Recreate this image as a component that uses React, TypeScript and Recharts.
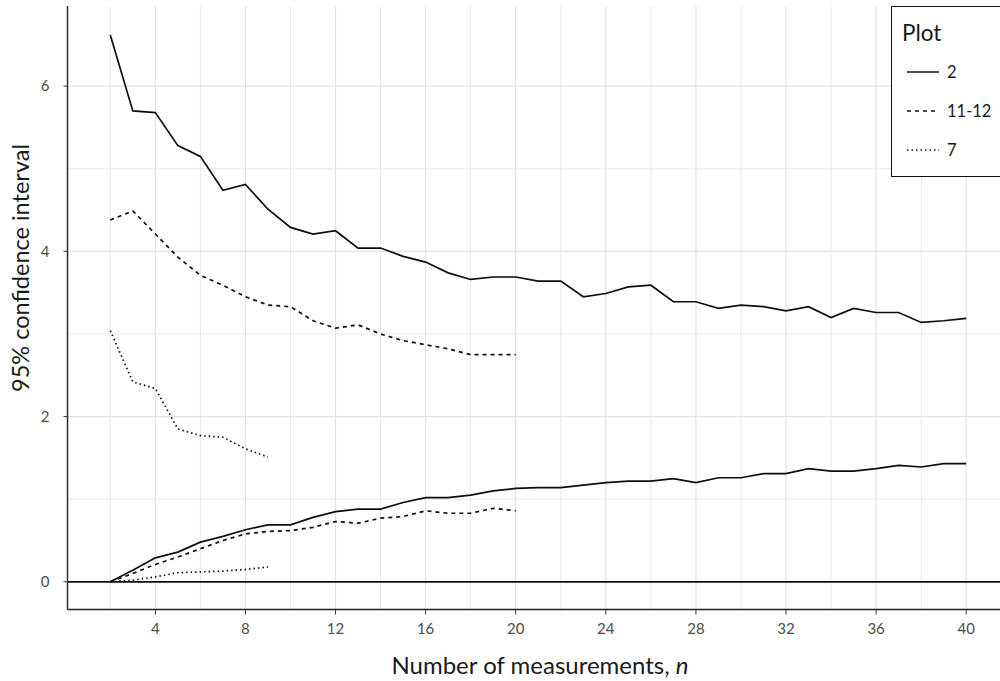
// Confidence interval width vs number of measurements
// Three plots, upper and lower bounds drawn with solid / dashed / dotted lines

import React from "react";
import { LineChart, Line, XAxis, YAxis, ReferenceLine } from "recharts";

// n = 2 .. 40
const nValues = [2, 3, 4, 5, 6, 7, 8, 9, 10, 11, 12, 13, 14, 15, 16, 17, 18, 19, 20, 21, 22, 23, 24, 25, 26, 27, 28, 29, 30, 31, 32, 33, 34, 35, 36, 37, 38, 39, 40];

// Plot 2 (solid)
const upper2 = [6.62, 5.70, 5.68, 5.28, 5.15, 4.74, 4.81, 4.51, 4.29, 4.21, 4.25, 4.04, 4.04, 3.94, 3.87, 3.74, 3.66, 3.69, 3.69, 3.64, 3.64, 3.45, 3.49, 3.57, 3.59, 3.39, 3.39, 3.31, 3.35, 3.33, 3.28, 3.33, 3.20, 3.31, 3.26, 3.26, 3.14, 3.16, 3.19];
const lower2 = [0, 0.14, 0.29, 0.36, 0.48, 0.55, 0.63, 0.69, 0.69, 0.78, 0.85, 0.88, 0.88, 0.96, 1.02, 1.02, 1.05, 1.10, 1.13, 1.14, 1.14, 1.17, 1.20, 1.22, 1.22, 1.25, 1.20, 1.26, 1.26, 1.31, 1.31, 1.37, 1.34, 1.34, 1.37, 1.41, 1.39, 1.43, 1.43];

// Plot 11-12 (dashed), n = 2 .. 20
const upper1112 = [4.38, 4.49, 4.21, 3.93, 3.71, 3.59, 3.45, 3.35, 3.33, 3.16, 3.07, 3.11, 3.00, 2.92, 2.87, 2.82, 2.75, 2.75, 2.75];
const lower1112 = [0, 0.10, 0.21, 0.30, 0.40, 0.50, 0.58, 0.61, 0.62, 0.66, 0.73, 0.71, 0.77, 0.79, 0.86, 0.83, 0.83, 0.89, 0.86];

// Plot 7 (dotted), n = 2 .. 9
const upper7 = [3.04, 2.42, 2.34, 1.85, 1.77, 1.75, 1.61, 1.51];
const lower7 = [0, 0.02, 0.06, 0.11, 0.12, 0.13, 0.15, 0.18];

const xTicks = [4, 8, 12, 16, 20, 24, 28, 32, 36, 40];
const yTicks = [0, 2, 4, 6];
const xGrid = [2, 4, 6, 8, 10, 12, 14, 16, 18, 20, 22, 24, 26, 28, 30, 32, 34, 36, 38, 40];
const yGrid = [0, 1, 2, 3, 4, 5, 6];

const legendItems = [
  { label: "2", dash: undefined },
  { label: "11-12", dash: "4 4" },
  { label: "7", dash: "1.5 3" },
];

const data = nValues.map((n, i) => ({
  n,
  upper2: upper2[i],
  lower2: lower2[i],
  upper1112: upper1112[i],
  lower1112: lower1112[i],
  upper7: upper7[i],
  lower7: lower7[i],
}));

const FONT = "Lato, 'Open Sans', sans-serif";
const X_DOMAIN: [number, number] = [0.1, 41.9];
const Y_DOMAIN: [number, number] = [-0.335, 6.97];

export default function App() {
  const lineProps = {
    type: "linear" as const,
    stroke: "#0d0d0d",
    strokeWidth: 1.7,
    dot: false,
    activeDot: false,
    isAnimationActive: false,
  };

  return (
    <div style={{ position: "absolute", left: 0, top: 0, width: 1000, height: 681, overflow: "hidden", background: "#fff", fontFamily: FONT }}>
      <LineChart width={1020} height={681} data={data} margin={{ top: 6, right: 11, bottom: 0, left: 0 }}>
        {xGrid.map(v => (
          <ReferenceLine key={"gx" + v} x={v} stroke="#e3e3e3" strokeWidth={v % 4 === 0 ? 1.2 : 0.8} />
        ))}
        {yGrid.map(v => (
          <ReferenceLine key={"gy" + v} y={v} stroke="#e3e3e3" strokeWidth={v % 2 === 0 ? 1.2 : 0.8} />
        ))}
        <XAxis
          dataKey="n"
          type="number"
          domain={X_DOMAIN}
          ticks={xTicks}
          height={71.5}
          axisLine={{ stroke: "#222", strokeWidth: 1.4 }}
          tickLine={{ stroke: "#333" }}
          tickSize={5}
          tickMargin={9}
          tick={{ fill: "#4d4d4d", fontSize: 15, fontFamily: FONT }}
          allowDataOverflow
        />
        <XAxis
          xAxisId="top"
          orientation="top"
          type="number"
          domain={X_DOMAIN}
          height={0}
          tick={false}
          tickLine={false}
          axisLine={{ stroke: "#222", strokeWidth: 1.4 }}
        />
        <YAxis
          type="number"
          domain={Y_DOMAIN}
          ticks={yTicks}
          width={67.5}
          axisLine={{ stroke: "#222", strokeWidth: 1.4 }}
          tickLine={{ stroke: "#333" }}
          tickSize={4}
          tickMargin={14}
          tick={{ fill: "#4d4d4d", fontSize: 15, fontFamily: FONT }}
          allowDataOverflow
        />
        <ReferenceLine y={0} stroke="#111" strokeWidth={1.7} />
        <Line {...lineProps} dataKey="upper2" name="2" />
        <Line {...lineProps} dataKey="lower2" name="2" legendType="none" />
        <Line {...lineProps} dataKey="upper1112" name="11-12" strokeDasharray="4 4" />
        <Line {...lineProps} dataKey="lower1112" name="11-12" strokeDasharray="4 4" legendType="none" />
        <Line {...lineProps} dataKey="upper7" name="7" strokeDasharray="1.5 3" />
        <Line {...lineProps} dataKey="lower7" name="7" strokeDasharray="1.5 3" legendType="none" />
      </LineChart>

      {/* axis titles */}
      <div
        style={{
          position: "absolute",
          left: 20,
          top: 268,
          transform: "translate(-50%, -50%) rotate(-90deg)",
          whiteSpace: "nowrap",
          fontSize: 23.5,
          color: "#1a1a1a",
        }}
      >
        95% confidence interval
      </div>
      <div
        style={{
          position: "absolute",
          left: 540,
          top: 664,
          transform: "translate(-50%, -50%)",
          whiteSpace: "nowrap",
          fontSize: 24,
          color: "#1a1a1a",
        }}
      >
        Number of measurements, <i>n</i>
      </div>

      {/* legend */}
      <div
        style={{
          position: "absolute",
          left: 891,
          top: 6,
          width: 140,
          height: 171,
          border: "1.5px solid #111",
          background: "#fff",
          boxSizing: "border-box",
        }}
      >
        <div style={{ position: "absolute", left: 10, top: 12, fontSize: 22.5, color: "#1a1a1a" }}>Plot</div>
        {legendItems.map((item, i) => (
          <div key={item.label} style={{ position: "absolute", left: 15, top: 50 + i * 39, height: 30, display: "flex", alignItems: "center" }}>
            <svg width={32} height={10}>
              <line x1={0} y1={5} x2={32} y2={5} stroke="#111" strokeWidth={1.5} strokeDasharray={item.dash} />
            </svg>
            <span style={{ marginLeft: 8, fontSize: 16.5, color: "#1a1a1a" }}>{item.label}</span>
          </div>
        ))}
      </div>
    </div>
  );
}
